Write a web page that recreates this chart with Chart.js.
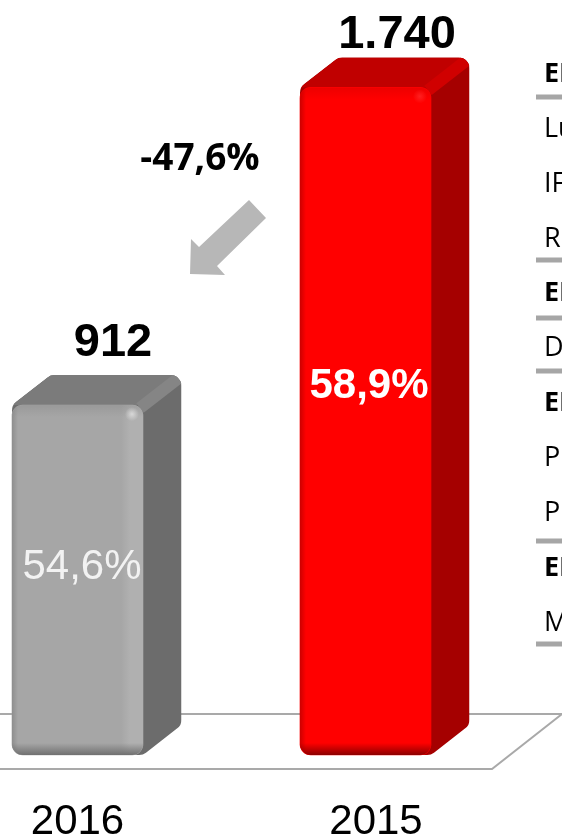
<!DOCTYPE html>
<html><head><meta charset="utf-8">
<style>html,body{margin:0;padding:0;background:#fff;overflow:hidden}#w{position:relative;width:562px;height:838px}</style>
<script src="https://cdn.jsdelivr.net/npm/chart.js@4"></script></head>
<body><div id="w"><canvas id="c" width="562" height="838"></canvas></div>
<script>
const categories = ['2016', '2015'];
const values = [912, 1740];
const valueLabels = ['912', '1.740'];
const shareLabels = ['54,6%', '58,9%'];
const changeLabel = '-47,6%';
const tableRows = ['EI', 'Lu', 'IF', 'R', 'EI', 'D', 'EI', 'P', 'P', 'EI', 'M'];
const tableBold = [1, 0, 0, 0, 1, 0, 1, 0, 0, 1, 0];
const tableBaselines = [82, 137, 192, 247, 301, 356, 411, 466, 521, 576, 631];
const tableRules = [97, 260, 318, 371, 541, 644];

const DX = 38.5, DY = 30, R = 11;
const looks = [
 {front:'#a6a6a6', band:'#b0b0b0', top:'#7b7b7b', side:'#6c6c6c', bevel:'#858585', edge:'#707070', lit:'#d8d8d8', share:'400 42px "Liberation Sans"', shareColor:'#f2f2f2', valueDx:35.5, valueUp:49, shareDx:4.5, shareDy:-1},
 {front:'#ff0000', band:'#ff0000', top:'#c00000', side:'#a50000', bevel:'#d00000', edge:'#8c0000', lit:'#ff2020', share:'700 42px "Liberation Sans"', shareColor:'#ffffff', valueDx:31.5, valueUp:39, shareDx:3.5, shareDy:-23}
];
function roundPoly(ctx, pts, r){
  ctx.beginPath();
  const n = pts.length, s = pts[0], e = pts[n-1];
  ctx.moveTo((s[0]+e[0])/2, (s[1]+e[1])/2);
  for(let i=0;i<n;i++){const a=pts[i], b=pts[(i+1)%n]; ctx.arcTo(a[0],a[1],b[0],b[1],r);}
  ctx.closePath();
}
function hGrad(ctx,x0,x1,stops){const g=ctx.createLinearGradient(x0,0,x1,0);stops.forEach(s=>g.addColorStop(s[0],s[1]));return g;}
function vGrad(ctx,y0,y1,stops){const g=ctx.createLinearGradient(0,y0,0,y1);stops.forEach(s=>g.addColorStop(s[0],s[1]));return g;}
const alpha = (c)=>c+'00';

const scene = {
 id:'scene',
 beforeDraw(chart){
  const ctx = chart.ctx, xs = chart.scales.x, b = chart.scales.y.getPixelForValue(0);
  const items = xs.getLabelItems();
  if(items[1]) items[1].options.translation[0] = xs.getPixelForTick(1) + 10.5;
  ctx.save();
  ctx.strokeStyle='#a9a9a9'; ctx.lineWidth=2;
  ctx.beginPath();
  ctx.moveTo(0,b-41); ctx.lineTo(562,b-41); ctx.lineTo(492,b+14); ctx.lineTo(0,b+14);
  ctx.stroke();
  ctx.restore();
 },
 beforeDatasetsDraw(chart){
  const ctx = chart.ctx;
  chart.getDatasetMeta(0).data.forEach((bar,i)=>{
   const l=bar.x-bar.width/2, r=bar.x+bar.width/2, t=bar.y, b=bar.base, k=looks[i];
   ctx.save();
   roundPoly(ctx,[[l,t],[l+DX,t-DY],[r+DX,t-DY],[r+DX,b-DY],[r,b],[l,b]],R);
   ctx.clip();
   ctx.fillStyle=k.side; ctx.fillRect(l,t-DY,r+DX-l,b-t+DY);
   ctx.fillStyle=k.top;
   ctx.beginPath();ctx.moveTo(l,t);ctx.lineTo(l+DX,t-DY);ctx.lineTo(r+DX,t-DY);ctx.lineTo(r,t);ctx.closePath();ctx.fill();
   ctx.strokeStyle=k.bevel; ctx.lineWidth=12;
   ctx.beginPath();ctx.moveTo(r-3,t+3);ctx.lineTo(r+DX-3,t-DY+3);ctx.stroke();
   ctx.restore();
  });
 },
 afterDatasetsDraw(chart){
  const ctx = chart.ctx;
  chart.getDatasetMeta(0).data.forEach((bar,i)=>{
   const l=bar.x-bar.width/2, r=bar.x+bar.width/2, t=bar.y, b=bar.base, k=looks[i];
   ctx.save();
   ctx.beginPath();ctx.roundRect(l,t,r-l,b-t,R);ctx.clip();
   ctx.fillStyle=hGrad(ctx,r-22,r,[[0,alpha(k.band)],[0.4,k.band],[1,k.band]]);
   ctx.fillRect(r-22,t,22,b-t);
   ctx.fillStyle=hGrad(ctx,l,l+6,[[0,k.edge+'70'],[1,alpha(k.edge)]]);
   ctx.fillRect(l,t,6,b-t);
   ctx.fillStyle=vGrad(ctx,t,t+12,[[0,k.bevel+'60'],[1,alpha(k.bevel)]]);
   ctx.fillRect(l,t,r-l,12);
   ctx.fillStyle=vGrad(ctx,b-12,b,[[0,alpha(k.edge)],[1,k.edge]]);
   ctx.fillRect(l,b-12,r-l,12);
   const g=ctx.createRadialGradient(r-11,t+9,0,r-11,t+9,7);
   g.addColorStop(0,k.lit);g.addColorStop(1,alpha(k.lit));
   ctx.fillStyle=g;ctx.fillRect(r-20,t,20,18);
   ctx.restore();
   ctx.save();
   ctx.textAlign='center';ctx.textBaseline='alphabetic';
   ctx.fillStyle='#000';ctx.font='700 47px "Liberation Sans"';
   ctx.fillText(valueLabels[i],bar.x+k.valueDx,t-k.valueUp);
   ctx.fillStyle=k.shareColor;ctx.font=k.share;
   ctx.fillText(shareLabels[i],bar.x+k.shareDx,(t+b)/2+k.shareDy);
   ctx.restore();
  });
  ctx.save();
  ctx.fillStyle='#b7b7b7';
  ctx.beginPath();
  [[249,200],[266,218],[217,266],[225,275],[190,274],[191,239],[199,247]].forEach((p,j)=>j?ctx.lineTo(p[0],p[1]):ctx.moveTo(p[0],p[1]));
  ctx.closePath();ctx.fill();
  ctx.fillStyle='#000';ctx.font='700 37px "Open Sans"';ctx.textAlign='center';
  ctx.fillText(changeLabel,200,170);
  ctx.textAlign='left';
  tableRows.forEach((s,i)=>{
   ctx.font=(tableBold[i]?'700':'400')+' 27px "Open Sans"';
   ctx.fillText(s,544,tableBaselines[i]);
  });
  ctx.fillStyle='#a6a6a6';
  tableRules.forEach(y=>ctx.fillRect(536,y-2.5,26,5));
  ctx.restore();
 }
};

new Chart(document.getElementById('c'),{
 type:'bar',
 data:{labels:categories,datasets:[{data:values,backgroundColor:looks.map(k=>k.front),barThickness:131,borderRadius:R,borderSkipped:false,clip:false}]},
 options:{
  responsive:false,animation:false,
  layout:{padding:{left:77.5,right:196.5,top:26,bottom:0}},
  plugins:{legend:{display:false},tooltip:{enabled:false}},
  scales:{
   x:{offset:false,grid:{display:false},border:{display:false},afterFit(s){s.height=83;s.paddingLeft=0;s.paddingRight=0;},
      ticks:{color:'#000',font:{family:'"Liberation Sans"',size:42},padding:34,autoSkip:false,maxRotation:0,minRotation:0}},
   y:{display:false,min:0,max:1900}
  }
 },
 plugins:[scene]
});
</script></body></html>
